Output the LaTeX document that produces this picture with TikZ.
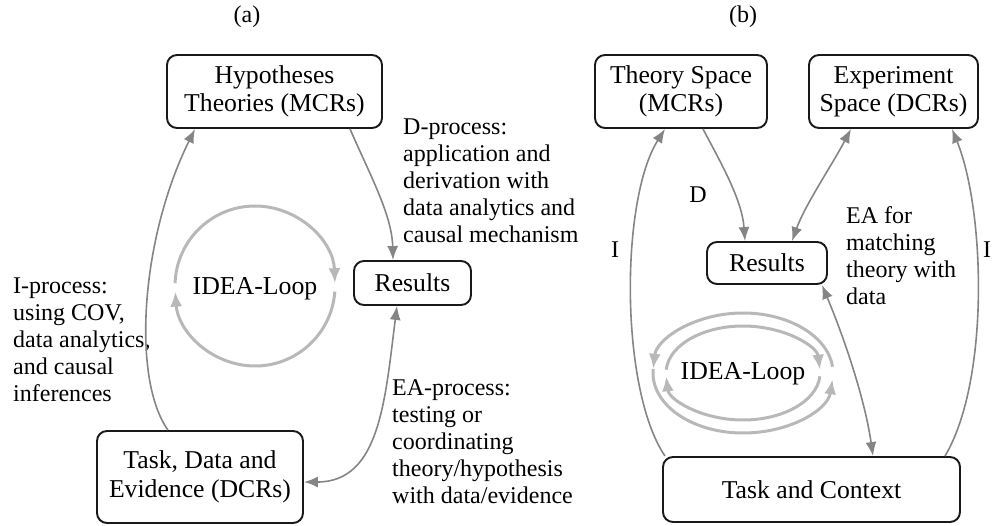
\documentclass[tikz,border=0pt]{standalone}
\usepackage{fontspec}
\setmainfont{Liberation Serif}
\usetikzlibrary{arrows.meta}
\definecolor{linkgray}{gray}{0.52}
\definecolor{loopgray}{gray}{0.72}
\definecolor{boxline}{gray}{0.1}
\tikzset{
  box/.style={draw=boxline, line width=1.9pt, rounded corners=10pt, align=center,
    inner sep=0pt, font=\fontsize{25.7}{28.5}\selectfont},
  lbl/.style={align=left, inner sep=0pt, anchor=north west,
    font=\fontsize{24}{27}\selectfont},
  tag/.style={inner sep=0pt, font=\fontsize{24}{27}\selectfont},
  looptext/.style={inner sep=0pt, font=\fontsize{25.8}{28}\selectfont},
  link/.style={draw=linkgray, line width=1.6pt, -{Latex[length=14pt,width=11pt]}},
  dlink/.style={draw=linkgray, line width=1.6pt, {Latex[length=14pt,width=11pt]}-{Latex[length=14pt,width=11pt]}},
  loop/.style={draw=loopgray, line width=3pt, -{Latex[length=15pt,width=12pt]}},
}
\begin{document}
\begin{tikzpicture}[x=1pt,y=-1pt]
\useasboundingbox (0,0) rectangle (992,525);

% ---------------- panel (a) ----------------
\node[tag] (ta) at (247,17) {(a)};
\node[box, minimum width=215pt, minimum height=73pt] (hyp) at (274.5,91.5) {Hypotheses\\Theories (MCRs)};
\node[box, minimum width=117pt, minimum height=44pt] (resa) at (412.5,283) {Results};
\node[box, minimum width=206pt, minimum height=92pt] (taska) at (200,477) {Task, Data and\\Evidence (DCRs)};

\node[lbl] (dproc) at (403,119) {D-process:\\application and\\derivation with\\data analytics and\\causal mechanism};
\node[lbl] (iproc) at (13,278) {I-process:\\using COV,\\data analytics,\\and causal\\inferences};
\node[lbl] (eaproc) at (392,379) {EA-process:\\testing or\\coordinating\\theory/hypothesis\\with data/evidence};

% IDEA loop of panel (a)
\node[looptext] (loopa) at (255,289) {IDEA-Loop};
\draw[loop] (255,286) ++(-178:80) arc[start angle=-178, end angle=-2, radius=80];
\draw[loop] (255,286) ++(4:80) arc[start angle=4, end angle=176, radius=80];

\draw[link] ([xshift=-32pt]taska.north) .. controls (132,380) and (140,240) .. ([xshift=-79.5pt]hyp.south);
\draw[link] ([xshift=75.5pt]hyp.south) .. controls (370,175) and (392,215) .. ([xshift=-19.5pt]resa.north);
\draw[dlink] ([xshift=-15.5pt]resa.south) .. controls (385,400) and (380,482) .. ([yshift=-5pt]taska.east);

% ---------------- panel (b) ----------------
\node[tag] (tb) at (743,17) {(b)};
\node[box, minimum width=172pt, minimum height=73pt] (theory) at (681,91.5) {Theory Space\\(MCRs)};
\node[box, minimum width=169pt, minimum height=73pt] (expt) at (893.5,91.5) {Experiment\\Space (DCRs)};
\node[box, minimum width=120pt, minimum height=42pt] (resb) at (767,263) {Results};
\node[box, minimum width=297pt, minimum height=65pt] (taskb) at (811.5,489.5) {Task and Context};

\node[tag] (dlab) at (698,195) {D};
\node[tag] (ileft) at (615,250) {I};
\node[tag] (iright) at (987,250) {I};
\node[lbl] (eafor) at (846,206.5) {EA for\\matching\\theory with\\data};

% double IDEA loop of panel (b)
\node[looptext] (loopb) at (743,374) {IDEA-Loop};
\draw[loop] (743,373) ++(-6:90 and 60) arc[start angle=-6, end angle=-176, x radius=90, y radius=60];
\draw[loop] (743,373) ++(184:90 and 60) arc[start angle=184, end angle=6, x radius=90, y radius=60];
\draw[loop] (743,373) ++(-176:77 and 47) arc[start angle=-176, end angle=-4, x radius=77, y radius=47];
\draw[loop] (743,373) ++(4:77 and 47) arc[start angle=4, end angle=176, x radius=77, y radius=47];

\draw[link] ([xshift=-146.5pt]taskb.north) .. controls (620,390) and (620,200) .. ([xshift=-16pt]theory.south);
\draw[link] ([xshift=133.5pt]taskb.north) .. controls (990,380) and (985,210) .. ([xshift=58.5pt]expt.south);
\draw[link] ([xshift=22pt]theory.south) .. controls (722,165) and (742,200) .. ([xshift=-22pt]resb.north);
\draw[dlink] ([xshift=25pt]resb.north) .. controls (805,205) and (832,165) .. ([xshift=-42.5pt]expt.south);
\draw[dlink] ([xshift=55pt]resb.south) .. controls (845,340) and (865,400) .. ([xshift=61.5pt]taskb.north);
\end{tikzpicture}
\end{document}
